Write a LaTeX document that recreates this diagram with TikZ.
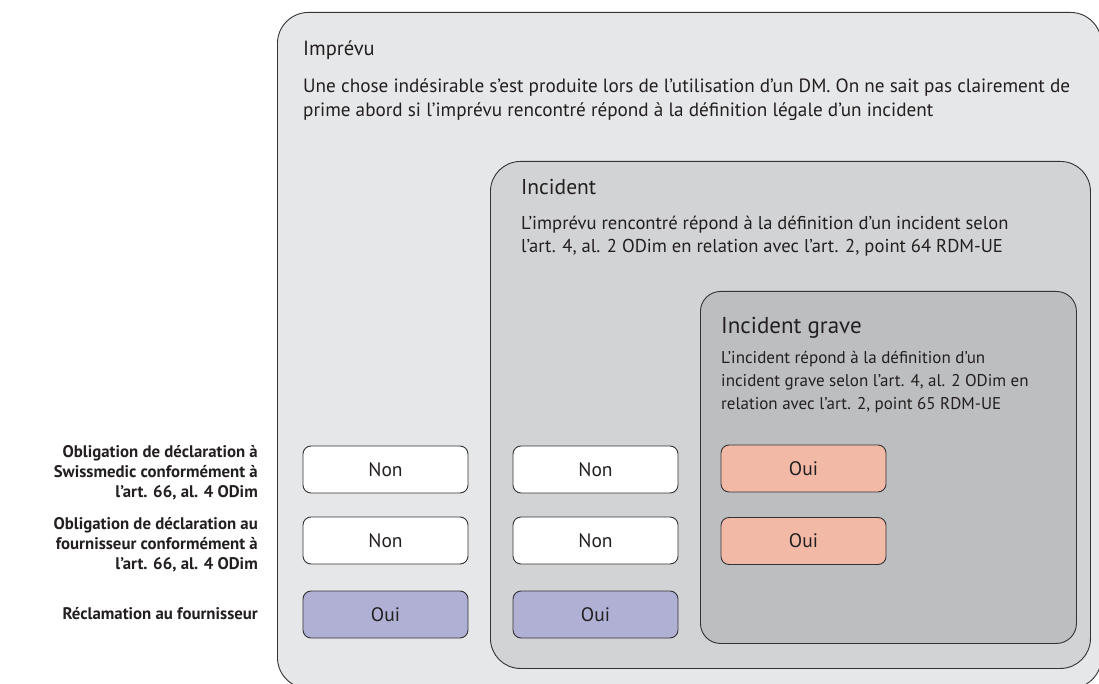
\documentclass[tikz,border=0pt]{standalone}
\usepackage{fontspec}
\setmainfont{PT Sans}
\usepackage{tikz}
\definecolor{inkGrey}{RGB}{35, 31, 32}
\definecolor{lineGrey}{RGB}{51, 51, 51}
\definecolor{imprevuGrey}{RGB}{230, 231, 232}
\definecolor{incidentGrey}{RGB}{209, 211, 212}
\definecolor{graveGrey}{RGB}{188, 190, 192}
\definecolor{ouiLilac}{RGB}{176, 176, 212}
\definecolor{ouiSalmon}{RGB}{242, 185, 166}

\newcommand{\titlefont}{\fontsize{21.5}{25}\selectfont}
\newcommand{\bodyfont}{\fontsize{19.2}{24}\selectfont}
\newcommand{\incidentfont}{\fontsize{18.6}{23}\selectfont}
\newcommand{\gravefont}{\fontsize{17}{23}\selectfont}
\newcommand{\rowfont}{\fontsize{16.8}{20}\selectfont\bfseries}
\newcommand{\answerfont}{\fontsize{19.5}{20}\selectfont}

\begin{document}
\begin{tikzpicture}[x=1pt, y=-1pt,
  panel/.style={draw=lineGrey, line width=0.9pt, anchor=north west, inner sep=0pt},
  title/.style={anchor=base west, inner sep=0pt, text=inkGrey, font=\titlefont},
  body/.style={anchor=base west, inner sep=0pt, text=inkGrey, align=left, font=\bodyfont},
  rowlabel/.style={anchor=east, inner sep=0pt, text=inkGrey, align=right, font=\rowfont},
  answer/.style={draw=lineGrey, line width=0.9pt, rounded corners=8pt, minimum width=165pt,
    minimum height=47pt, inner sep=0pt, text=inkGrey, font=\answerfont}]
  \useasboundingbox (0,0) rectangle (1099,684);
  \clip (0,0) rectangle (1099,684);

  % 1. Imprevu
  \node[panel, fill=imprevuGrey, rounded corners=31pt, minimum width=824pt, minimum height=676pt] (imprevu) at (277,12) {};
  \node[title, font=\fontsize{20.5}{25}\selectfont] (imprevuTitle) at (303,56) {Imprévu};
  \node[body] (imprevuText) at (303,117) {Une chose indésirable s’est produite lors de l’utilisation d’un DM. On ne sait pas clairement de\\prime abord si l’imprévu rencontré répond à la définition légale d’un incident};

  % 2. Incident
  \node[panel, fill=incidentGrey, rounded corners=30pt, minimum width=600pt, minimum height=507pt] (incident) at (490,161) {};
  \node[title] (incidentTitle) at (521,195) {Incident};
  \node[body, font=\incidentfont] (incidentText) at (521,253) {L’imprévu rencontré répond à la définition d’un incident selon\\l’art. 4, al. 2 ODim en relation avec l’art. 2, point 64 RDM-UE};

  % 3. Incident grave
  \node[panel, fill=graveGrey, rounded corners=20pt, minimum width=376pt, minimum height=352pt] (grave) at (700,291) {};
  \node[title, font=\fontsize{23}{25}\selectfont] (graveTitle) at (721,333) {Incident grave};
  \node[body, font=\gravefont] (graveText) at (721,409) {L’incident répond à la définition d’un\\incident grave selon l’art. 4, al. 2 ODim en\\relation avec l’art. 2, point 65 RDM-UE};

  % 4. Row labels
  \node[rowlabel] (rowSwissmedic) at (258,473) {Obligation de déclaration à\\Swissmedic conformément à\\l’art. 66, al. 4 ODim};
  \node[rowlabel] (rowSupplier) at (258,545) {Obligation de déclaration au\\fournisseur conformément à\\l’art. 66, al. 4 ODim};
  \node[rowlabel] (rowClaim) at (258,614) {Réclamation au fournisseur};

  % 5. Answers
  \node[answer, fill=white] (imprevuA) at (385.5,469.5) {Non};
  \node[answer, fill=white] (imprevuB) at (385.5,540.5) {Non};
  \node[answer, fill=ouiLilac] (imprevuC) at (385.5,614.5) {Oui};
  \node[answer, fill=white] (incidentA) at (595.5,469.5) {Non};
  \node[answer, fill=white] (incidentB) at (595.5,540.5) {Non};
  \node[answer, fill=ouiLilac] (incidentC) at (595.5,614.5) {Oui};
  \node[answer, fill=ouiSalmon] (graveA) at (803.5,468.5) {Oui};
  \node[answer, fill=ouiSalmon] (graveB) at (803.5,541) {Oui};
\end{tikzpicture}
\end{document}
